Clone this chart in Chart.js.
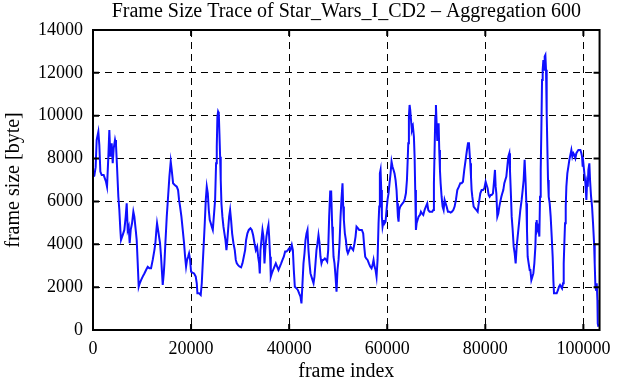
<!DOCTYPE html>
<html>
<head>
<meta charset="utf-8">
<script src="https://cdn.jsdelivr.net/npm/chart.js@4/dist/chart.umd.min.js"></script>
<style>
  html, body { margin: 0; padding: 0; background: #fff; }
  #wrap { width: 619px; height: 380px; }
</style>
</head>
<body>
<div id="wrap"><canvas id="trace" width="619" height="380"></canvas></div>
<script>
const chartTitle = "Frame Size Trace of Star_Wars_I_CD2 \u2013 Aggregation 600";
const xLabel = "frame index";
const yLabel = "frame size [byte]";
const xTicks = [0, 20000, 40000, 60000, 80000, 100000];
const yTicks = [0, 2000, 4000, 6000, 8000, 10000, 12000, 14000];

// frame index / aggregated frame size
const frames = [
  0,270,540,750,1090,1290,1500,1770,2180,2650,2860,3130,3330,3540,3810,4020,4220,4490,4690,4900,
  5170,5370,5580,5710,6050,6390,6670,6870,7080,7280,7480,7690,7960,8230,8430,8710,8910,9120,9320,9530,
  9800,10140,10480,10820,11160,11500,11840,12180,12520,12720,12930,13060,13270,13470,13670,13880,14080,14220,14430,14560,
  14760,15040,15310,15580,15850,16050,16330,16670,17080,17350,17550,17760,18030,18300,18570,18780,18980,19180,19390,19590,
  19800,20000,20270,20610,20950,21160,21290,21630,21970,22180,22380,22590,22790,23000,23200,23410,23610,23810,24020,24220,
  24430,24690,24900,25100,25240,25370,25510,25650,25780,25920,26050,26190,26390,26600,26800,27010,27210,27350,27550,27760,
  27960,28160,28370,28640,28910,29120,29320,29590,29870,30200,30480,30750,31020,31220,31490,31770,32110,32380,32650,32930,
  33200,33470,33670,33880,34010,34150,34350,34560,34760,34970,35170,35370,35580,35780,35920,36120,36260,36460,36730,37010,
  37280,37550,37820,38100,38370,38640,38910,39180,39460,39730,40000,40270,40540,40760,40950,41160,41490,41770,42040,42310,
  42510,42720,42920,43130,43330,43540,43740,43940,44150,44350,44550,44760,44970,45160,45370,45570,45780,45980,46190,46390,
  46590,46800,47000,47280,47550,47760,47960,48160,48370,48570,48780,48910,49050,49250,49460,49660,49860,50070,50270,50480,
  50680,50880,51020,51160,51360,51570,51770,51980,52240,52510,52790,53060,53330,53540,53740,54010,54280,54560,54830,55100,
  55310,55510,55710,55990,56260,56530,56800,57010,57210,57410,57620,57820,58030,58230,58370,58500,58640,58780,58910,59050,
  59180,59320,59450,59660,59860,60060,60270,60470,60680,60880,61080,61290,61490,61700,61900,62040,62180,62310,62450,62650,
  62860,63130,63400,63610,63810,64020,64150,64290,64420,64560,64690,64900,65030,65240,65440,65580,65710,65850,65990,66190,
  66390,66670,66870,67080,67350,67620,67890,68160,68370,68640,68910,69180,69390,69520,69660,69800,69930,70070,70200,70340,
  70480,70610,70750,70890,71090,71290,71500,71700,71910,72110,72380,72650,72930,73200,73470,73740,74010,74290,74620,74900,
  75170,75440,75710,75990,76260,76470,76670,76800,76940,77080,77210,77350,77620,77900,78170,78440,78570,78780,78980,79250,
  79530,79800,80070,80270,80480,80680,80880,81090,81290,81560,81770,81970,82110,82250,82450,82650,82860,83060,83270,83470,
  83670,83880,84080,84290,84490,84690,84900,85030,85240,85380,85580,85790,85990,86190,86400,86600,86870,87140,87410,87620,
  87820,88020,88230,88370,88500,88640,88840,89050,89190,89390,89600,89800,90000,90210,90340,90480,90610,90820,91020,91160,
  91300,91430,91570,91700,91840,91980,92110,92250,92380,92520,92650,92790,92930,93130,93330,93540,93740,93880,94010,94290,
  94560,94830,95030,95240,95440,95650,95850,95990,96120,96260,96400,96530,96730,96940,97140,97350,97550,97750,97960,98160,
  98370,98570,98780,98980,99180,99390,99590,99730,99860,100000,100200,100410,100610,100750,100890,101020,101220,101360,101570,101770,
  101970,102180,102310,102450,102590,102720,102860,102930,103060
];
const sizes = [
  7150,7200,7600,8870,9250,8630,7390,7230,7230,6920,6690,8090,9330,8090,8710,7780,8480,8870,8630,7620,
  6220,5600,4670,4200,4430,4670,5290,5910,4670,4820,4050,4670,4980,5520,5290,4670,4200,3110,2020,2180,
  2330,2490,2640,2800,2950,2880,2880,3270,3730,4050,4670,4980,4670,4360,4050,3420,2640,2100,2640,3110,
  4050,5290,6220,7160,7860,7470,6850,6770,6690,6530,6070,5760,5290,4670,4050,3420,2960,3270,3420,3580,
  3270,2720,2680,2640,2490,2180,1710,1710,1630,2180,3110,4050,4980,6070,6690,6380,5600,5130,4980,4820,
  4670,5440,6070,7780,8560,9960,10190,10110,9180,8090,7000,5910,5290,4820,4510,4200,3730,4050,4670,5290,
  5600,5130,4510,4050,3730,3270,3110,3030,2960,2920,3110,3420,3730,4200,4510,4670,4750,4670,4430,4050,
  3730,3890,3420,3110,2640,3730,4200,4670,4360,3110,3890,4360,4670,4900,4360,3420,2490,2640,2800,2960,
  3110,2960,2800,2960,3110,3270,3420,3660,3660,3730,3810,3730,3970,3730,2800,2020,1940,1870,1710,1560,
  1240,2180,3110,3580,4200,4510,4670,3730,3110,2640,2490,2330,2180,2490,3110,3730,4050,4430,4050,3420,
  3110,3270,3270,3340,3270,3190,3730,5290,6460,6460,4820,4200,3420,3110,2490,1790,2800,3270,4050,5290,
  6150,6850,5760,5130,4510,4200,3730,3580,3730,3890,3810,3730,4050,4360,4820,4750,4670,4670,4670,4510,
  3890,3420,3340,3270,3110,2960,2880,3030,3270,2960,2800,2490,3270,4980,5760,7310,7470,6530,5290,4820,
  4980,5130,4980,5060,5600,6070,6380,6850,7310,7860,7620,7470,7310,7000,6530,5910,5290,5060,5600,5760,
  5830,5910,5990,6150,6380,7000,7780,8710,9960,10500,10270,9650,9330,9490,9020,8090,6530,4670,4980,5130,
  5290,5370,5520,5440,5370,5600,5760,5910,5600,5520,5520,5520,5600,6850,8400,9960,10500,9650,8870,9020,
  9650,8400,7470,6850,6220,5760,5600,6070,5910,5760,5520,5520,5480,5520,5600,5760,6070,6530,6690,6850,
  6850,6920,7470,7940,8400,8710,8710,8250,7780,7160,6530,6220,5760,5680,5600,5520,5760,6070,6380,6530,
  6530,6610,6920,6770,6610,6300,6220,6300,6300,6380,6920,7470,6690,6380,5290,5440,5760,5990,6220,6380,
  6530,6850,7000,7160,7620,8090,8250,7470,6220,5290,4670,3890,3580,3110,3890,4360,4980,5600,6070,6530,
  7000,7940,6850,5910,4670,3420,3110,2800,2800,2330,2490,2640,3110,3890,4980,5130,4670,4820,4360,6220,
  7470,9330,11670,12140,12600,12140,12760,12830,12140,10110,8560,7000,6220,5910,5290,4360,3420,2330,1710,1710,
  1710,1870,2020,2100,2020,1940,2180,3110,4050,4980,5760,6690,7310,7620,7940,8170,8400,8090,8250,8170,
  8020,8250,8330,8400,8400,8400,8250,8090,7620,7780,7310,6850,6070,6850,6690,7470,7780,6990,6220,5760,
  4980,4050,3110,2020,1870,2180,1400,310,150
];

const serif = "'Liberation Serif', 'Times New Roman', serif";

// frame box with inward tick marks, like the gnuplot original
const frameBox = {
  id: "frameBox",
  afterDraw(chart) {
    const { ctx, chartArea: a, scales } = chart;
    ctx.save();
    ctx.strokeStyle = "#000";
    ctx.lineWidth = 2;
    ctx.strokeRect(a.left, a.top, a.right - a.left, a.bottom - a.top);
    ctx.beginPath();
    yTicks.forEach(v => {
      const y = scales.y.getPixelForValue(v);
      ctx.moveTo(a.left, y); ctx.lineTo(a.left + 6, y);
      ctx.moveTo(a.right, y); ctx.lineTo(a.right - 6, y);
    });
    xTicks.forEach(v => {
      const x = scales.x.getPixelForValue(v);
      ctx.moveTo(x, a.bottom); ctx.lineTo(x, a.bottom - 6);
      ctx.moveTo(x, a.top); ctx.lineTo(x, a.top + 6);
    });
    ctx.stroke();
    ctx.restore();
  }
};

new Chart(document.getElementById("trace"), {
  type: "line",
  data: {
    datasets: [{
      data: frames.map((f, i) => ({ x: f, y: sizes[i] })),
      borderColor: "#1010ff",
      borderWidth: 2,
      pointRadius: 0,
      tension: 0,
      fill: false
    }]
  },
  options: {
    responsive: false,
    animation: false,
    devicePixelRatio: 1,
    layout: { padding: { left: 0, right: 19, top: 0, bottom: 0 } },
    plugins: {
      legend: { display: false },
      tooltip: { enabled: false },
      title: {
        display: true,
        fullSize: false,
        text: chartTitle,
        color: "#000",
        font: { family: serif, size: 20, weight: "normal", lineHeight: 1.2 },
        padding: { top: 0, bottom: 6 }
      }
    },
    scales: {
      x: {
        type: "linear",
        min: 0,
        max: 103300,
        afterFit(s) { s.height = 50; },
        afterBuildTicks(s) { s.ticks = xTicks.map(v => ({ value: v })); },
        ticks: { color: "#000", font: { family: serif, size: 18 }, padding: 8, maxRotation: 0, callback: v => String(v) },
        grid: {
          drawTicks: false,
          color: c => (c.tick && c.tick.value === 0) ? "rgba(0,0,0,0)" : "#000",
          lineWidth: 1
        },
        border: { display: false, dash: [7, 5] },
        title: { display: true, text: xLabel, color: "#000", font: { family: serif, size: 20, lineHeight: 0.8 }, padding: { top: 0, bottom: 0 } }
      },
      y: {
        min: 0,
        max: 14000,
        afterFit(s) { s.width = 93; },
        afterBuildTicks(s) { s.ticks = yTicks.map(v => ({ value: v })); },
        ticks: { color: "#000", font: { family: serif, size: 18 }, padding: 10, callback: v => String(v) },
        grid: {
          drawTicks: false,
          color: c => (c.tick && (c.tick.value === 0 || c.tick.value === 14000)) ? "rgba(0,0,0,0)" : "#000",
          lineWidth: 1
        },
        border: { display: false, dash: [7, 5] },
        title: { display: true, text: yLabel, color: "#000", font: { family: serif, size: 20, lineHeight: 1 }, padding: { top: 4, bottom: 0 } }
      }
    }
  },
  plugins: [frameBox]
});
</script>
</body>
</html>
